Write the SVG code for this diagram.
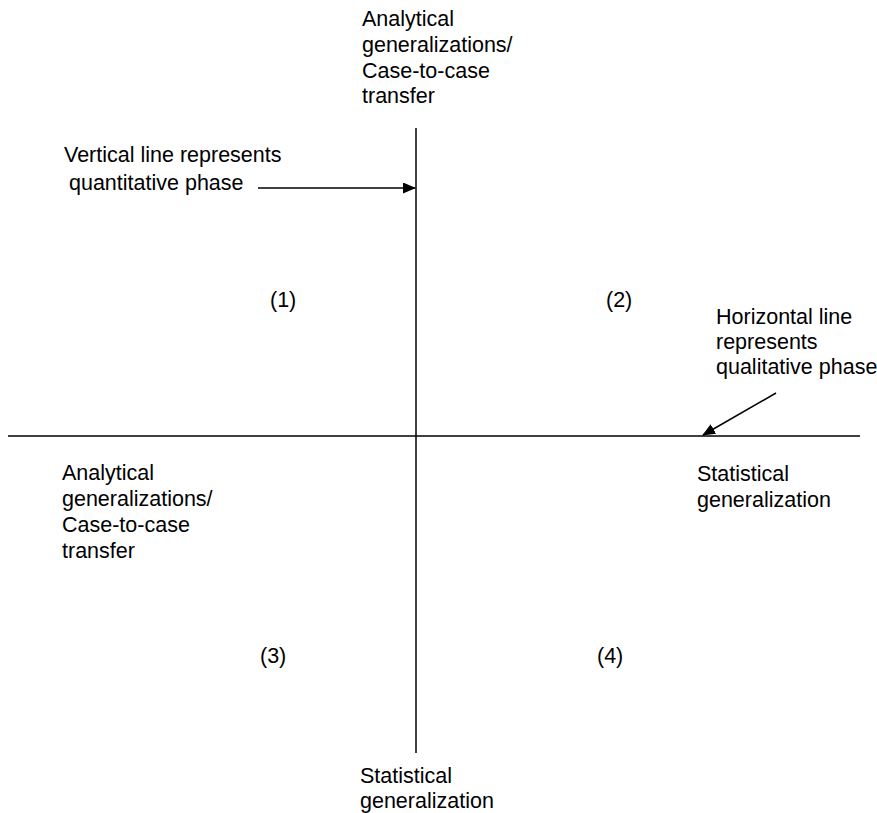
<svg xmlns="http://www.w3.org/2000/svg" width="877" height="813" viewBox="0 0 877 813">
<style>
text{font-family:"Liberation Sans",Arial,sans-serif;font-size:21.5px;fill:#000}
.ln{stroke:#000;stroke-width:1.5;fill:none}
</style>
<defs>
<marker id="ah" markerWidth="13" markerHeight="11" refX="12" refY="5.5" orient="auto" markerUnits="userSpaceOnUse">
<path d="M0,0 L13,5.5 L0,11 Z" fill="#000"/>
</marker>
</defs>
<rect width="877" height="813" fill="#fff"/>
<g id="connectors">
<line class="ln" x1="416" y1="128" x2="416" y2="753"/>
<line class="ln" x1="8" y1="436" x2="860" y2="436"/>
<line class="ln" x1="258" y1="188" x2="415" y2="188" marker-end="url(#ah)"/>
<line class="ln" x1="776" y1="393" x2="703" y2="435" marker-end="url(#ah)"/>
</g>
<g id="top-label">
<text x="362" y="26">Analytical</text>
<text x="362" y="52">generalizations/</text>
<text x="362" y="78">Case-to-case</text>
<text x="362" y="103">transfer</text>
</g>
<g id="vertical-note">
<text x="64" y="162">Vertical line represents</text>
<text x="69" y="190">quantitative phase</text>
</g>
<g id="q1"><text x="270" y="307">(1)</text></g>
<g id="q2"><text x="606" y="307">(2)</text></g>
<g id="horizontal-note">
<text x="716" y="324">Horizontal line</text>
<text x="716" y="349">represents</text>
<text x="716" y="374">qualitative phase</text>
</g>
<g id="right-label">
<text x="697" y="481">Statistical</text>
<text x="697" y="507">generalization</text>
</g>
<g id="left-label">
<text x="62" y="480">Analytical</text>
<text x="62" y="506">generalizations/</text>
<text x="62" y="532">Case-to-case</text>
<text x="62" y="558">transfer</text>
</g>
<g id="q3"><text x="260" y="663">(3)</text></g>
<g id="q4"><text x="597" y="663">(4)</text></g>
<g id="bottom-label">
<text x="360" y="783">Statistical</text>
<text x="360" y="808">generalization</text>
</g>
</svg>
